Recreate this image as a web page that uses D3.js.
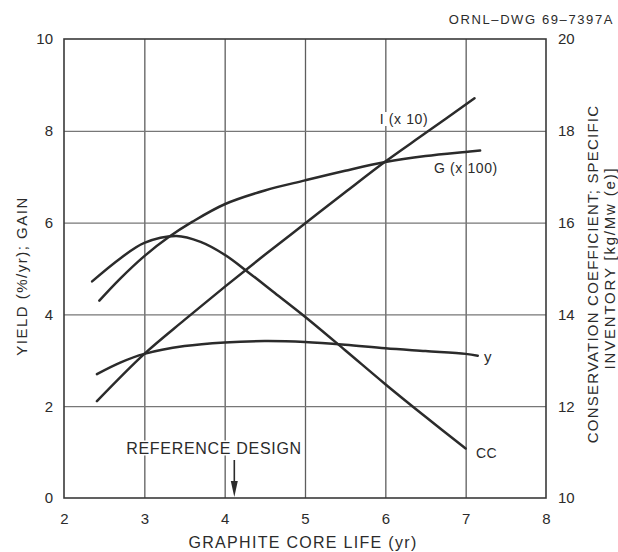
<!DOCTYPE html>
<html>
<head>
<meta charset="utf-8">
<script src="https://cdn.jsdelivr.net/npm/d3@7"></script>
<style>
  html, body { margin: 0; padding: 0; background: #ffffff; }
  svg { display: block; font-family: "Liberation Sans", Arial, sans-serif; }
</style>
</head>
<body>
<svg id="chart" width="618" height="552"></svg>
<script>
// Axis ticks
const xTicks = [2, 3, 4, 5, 6, 7, 8];
const leftTicks = [0, 2, 4, 6, 8, 10];
const rightTicks = [10, 12, 14, 16, 18, 20];

// Conservation coefficient (right axis)
const ccYears  = [2.35, 2.7, 3.0, 3.4, 3.7, 4.0, 4.3, 4.6, 5.0, 5.5, 6.0, 6.5, 7.0];
const ccValues = [14.72, 15.22, 15.56, 15.71, 15.58, 15.30, 14.91, 14.50, 13.95, 13.22, 12.48, 11.77, 11.08];

// Specific inventory x10 (right axis)
const invYears  = [2.41, 3.0, 3.5, 4.0, 4.5, 5.0, 5.5, 6.0, 6.5, 7.11];
const invValues = [12.11, 13.14, 13.88, 14.60, 15.30, 15.98, 16.66, 17.33, 17.95, 18.71];

// Gain x100 (left axis)
const gainYears  = [2.44, 2.7, 3.0, 3.3, 3.6, 4.0, 4.5, 5.0, 5.5, 6.0, 6.5, 7.0, 7.18];
const gainValues = [4.30, 4.78, 5.27, 5.68, 6.02, 6.40, 6.70, 6.92, 7.13, 7.32, 7.45, 7.54, 7.57];

// Yield, %/yr (left axis)
const yieldYears  = [2.41, 2.7, 3.0, 3.5, 4.0, 4.5, 5.0, 5.5, 6.0, 6.5, 7.0, 7.15];
const yieldValues = [2.70, 2.95, 3.14, 3.31, 3.39, 3.42, 3.40, 3.34, 3.26, 3.20, 3.14, 3.10];

const referenceDesignYear = 4.12;

const ink = "#2b2b2b";
const svg = d3.select("#chart");
const plotL = 64, plotR = 546, plotT = 39, plotB = 498;

const x = d3.scaleLinear().domain([2, 8]).range([plotL, plotR]);
const yL = d3.scaleLinear().domain([0, 10]).range([plotB, plotT]);
const yR = d3.scaleLinear().domain([10, 20]).range([plotB, plotT]);

// grid
const gridX = svg.append("g").attr("transform", `translate(0,${plotB})`)
  .call(d3.axisBottom(x).tickValues(xTicks.slice(1, -1)).tickSize(-(plotB - plotT)).tickFormat(""));
gridX.select(".domain").remove();
gridX.selectAll("line").attr("stroke", "#5e5e5e").attr("stroke-width", 1.3);

const gridY = svg.append("g").attr("transform", `translate(${plotL},0)`)
  .call(d3.axisLeft(yL).tickValues(leftTicks.slice(1, -1)).tickSize(-(plotR - plotL)).tickFormat(""));
gridY.select(".domain").remove();
gridY.selectAll("line").attr("stroke", "#777").attr("stroke-width", 1.3);

// frame
svg.append("rect").attr("x", plotL).attr("y", plotT)
  .attr("width", plotR - plotL).attr("height", plotB - plotT)
  .attr("fill", "none").attr("stroke", "#3a3a3a").attr("stroke-width", 1.6);

// tick labels
function styleAxis(g) {
  g.select(".domain").remove();
  g.selectAll("line").remove();
  g.selectAll("text").attr("font-size", 15).attr("fill", ink)
    .attr("font-family", "'Liberation Sans', Arial, sans-serif");
}
svg.append("g").attr("transform", `translate(0,${plotB})`)
  .call(d3.axisBottom(x).tickValues(xTicks).tickSize(0).tickPadding(15).tickFormat(d3.format("d")))
  .call(styleAxis);
svg.append("g").attr("transform", `translate(${plotL},0)`)
  .call(d3.axisLeft(yL).tickValues(leftTicks).tickSize(0).tickPadding(11).tickFormat(d3.format("d")))
  .call(styleAxis);
svg.append("g").attr("transform", `translate(${plotR},0)`)
  .call(d3.axisRight(yR).tickValues(rightTicks).tickSize(0).tickPadding(12).tickFormat(d3.format("d")))
  .call(styleAxis);

// curves
const lineL = d3.line().x(d => x(d[0])).y(d => yL(d[1])).curve(d3.curveCatmullRom.alpha(0.5));
const lineR = d3.line().x(d => x(d[0])).y(d => yR(d[1])).curve(d3.curveCatmullRom.alpha(0.5));
const zip = (a, b) => a.map((v, i) => [v, b[i]]);

const curves = svg.append("g").attr("fill", "none").attr("stroke", ink)
  .attr("stroke-width", 2.5).attr("stroke-linecap", "round");
curves.append("path").attr("d", lineR(zip(ccYears, ccValues)));
curves.append("path").attr("d", lineR(zip(invYears, invValues)));
curves.append("path").attr("d", lineL(zip(gainYears, gainValues)));
curves.append("path").attr("d", lineL(zip(yieldYears, yieldValues)));

// labels with a white backing so grid lines break around them
function label(text, cx, cy, size, spacing, anchor, backed) {
  const g = svg.append("g");
  const t = g.append("text").attr("x", cx).attr("y", cy)
    .attr("text-anchor", anchor || "middle").attr("dominant-baseline", "central")
    .attr("font-size", size).attr("letter-spacing", spacing).attr("fill", ink).text(text);
  if (backed) {
    const b = t.node().getBBox();
    g.insert("rect", "text").attr("x", b.x - 2).attr("y", b.y + 1)
      .attr("width", b.width + 4).attr("height", b.height - 2).attr("fill", "#fff");
  }
  return t;
}

label("I (x 10)", 404, 119, 14, 0.6, "middle", true);
label("G (x 100)", 466, 168, 14, 0.6, "middle", false);
label("y", 484, 356, 15, 0, "start", false);
label("CC", 476, 453, 14, 0.5, "start", false);
label("REFERENCE DESIGN", 214, 448, 16, 0.7, "middle", true);

// reference design arrow
const ax = x(referenceDesignYear);
svg.append("line").attr("x1", ax).attr("x2", ax).attr("y1", 460).attr("y2", plotB - 10)
  .attr("stroke", ink).attr("stroke-width", 1.6);
svg.append("path")
  .attr("d", `M${ax - 3.5},${plotB - 17} L${ax + 3.5},${plotB - 17} L${ax},${plotB - 1} Z`)
  .attr("fill", ink);

// axis titles
svg.append("text").attr("x", 303).attr("y", 542).attr("text-anchor", "middle")
  .attr("dominant-baseline", "central").attr("font-size", 16).attr("letter-spacing", 1.3)
  .attr("fill", ink).text("GRAPHITE CORE LIFE (yr)");

svg.append("text").attr("transform", "translate(21,276) rotate(-90)")
  .attr("text-anchor", "middle").attr("dominant-baseline", "central")
  .attr("font-size", 15).attr("letter-spacing", 1.5).attr("fill", ink)
  .text("YIELD (%/yr); GAIN");

svg.append("text").attr("transform", "translate(592,274) rotate(-90)")
  .attr("text-anchor", "middle").attr("dominant-baseline", "central")
  .attr("font-size", 15).attr("letter-spacing", 1.2).attr("fill", ink)
  .text("CONSERVATION COEFFICIENT; SPECIFIC");
svg.append("text").attr("transform", "translate(609,268) rotate(-90)")
  .attr("text-anchor", "middle").attr("dominant-baseline", "central")
  .attr("font-size", 15).attr("letter-spacing", 1.8).attr("fill", ink)
  .text("INVENTORY [kg/Mw (e)]");

// drawing number
svg.append("text").attr("x", 614).attr("y", 19).attr("text-anchor", "end")
  .attr("dominant-baseline", "central").attr("font-size", 13).attr("letter-spacing", 1.6)
  .attr("fill", ink).text("ORNL\u2013DWG 69\u20137397A");
</script>
</body>
</html>
